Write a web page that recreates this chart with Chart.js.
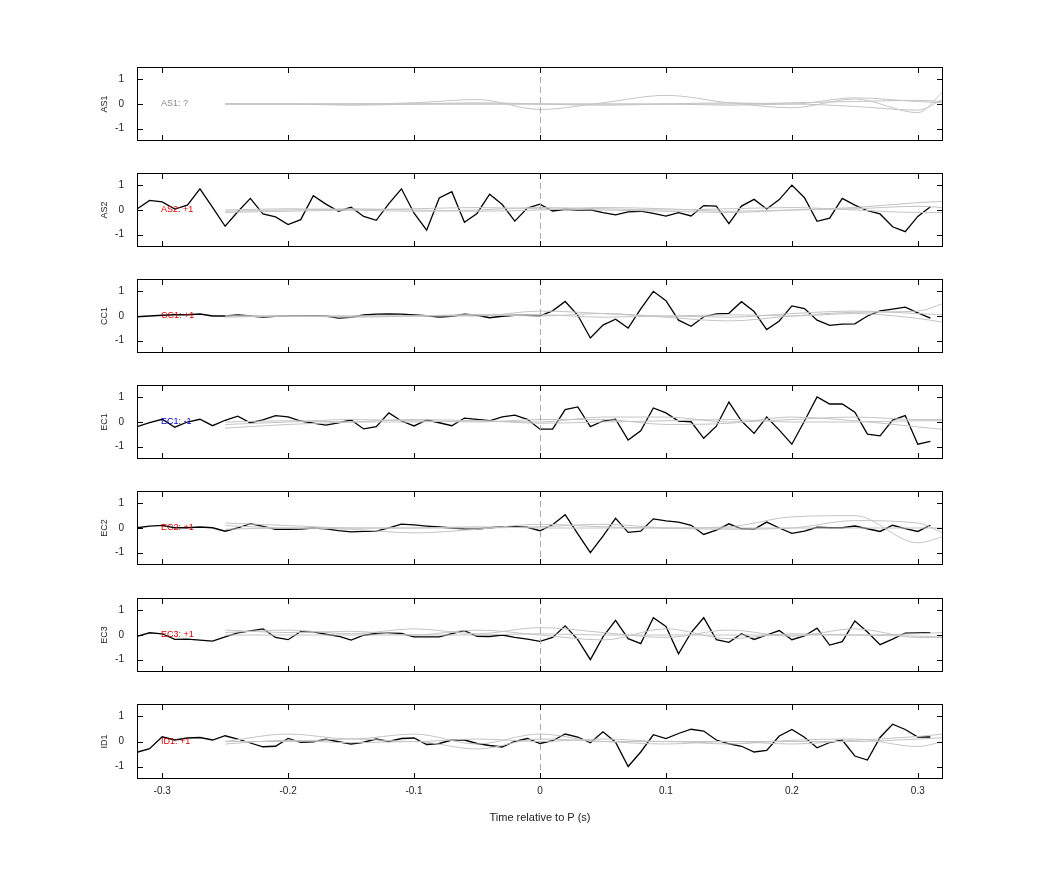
<!DOCTYPE html>
<html lang="en">
<head>
  <meta charset="UTF-8">
  <title>Time relative to P</title>
  <script src="https://cdn.jsdelivr.net/npm/chart.js"></script>
  <style>
    body { margin: 0; background: #fff; font-family: 'Liberation Sans', Arial, sans-serif; }
    #wrap { position: relative; width: 1042px; height: 875px; }
    canvas { position: absolute; left: 0; }
  </style>
</head>
<body>
<div id="wrap"></div>
<script>
  // time axis for the black traces (s)
  const times = [];
  for (let i = -32; i <= 31; i++) times.push(i / 100);
  // time axis for the smooth gray traces
  const grayTimes = [-0.25, -0.2, -0.15, -0.1, -0.05, 0, 0.05, 0.1, 0.15, 0.2, 0.25, 0.3, 0.32];
  const xTicks = [-0.3, -0.2, -0.1, 0, 0.1, 0.2, 0.3];
  const yTicks = [1, 0, -1];

  const stations = ['AS1', 'AS2', 'CC1', 'EC1', 'EC2', 'EC3', 'ID1'];
  const labels = ['AS1: ?', 'AS2: +1', 'CC1: +1', 'EC1: -1', 'EC2: +1', 'EC3: +1', 'ID1: +1'];
  const labelColors = ['#888888', '#dd0000', '#dd0000', '#0000cc', '#dd0000', '#dd0000', '#dd0000'];

  const blackAS2 = [0.04,0.39,0.33,0.04,0.2,0.86,0.11,-0.66,-0.07,0.47,-0.16,-0.28,-0.59,-0.39,0.58,0.24,-0.05,0.11,-0.26,-0.42,0.26,0.86,-0.13,-0.82,0.49,0.74,-0.5,-0.14,0.64,0.22,-0.45,0.08,0.24,-0.04,0.03,0,0.01,-0.11,-0.2,-0.08,-0.05,-0.14,-0.25,-0.11,-0.24,0.18,0.16,-0.55,0.16,0.43,0.04,0.42,1.01,0.5,-0.46,-0.33,0.47,0.2,-0.03,-0.16,-0.68,-0.88,-0.26,0.13];
  const blackCC1 = [-0.03,0,0.03,0.05,0.05,0.08,0,0,0.04,0,-0.04,-0.01,0.01,0.01,0.01,0,-0.09,-0.05,0.04,0.08,0.09,0.08,0.04,0.01,-0.04,-0.01,0.07,0.03,-0.07,-0.01,0.03,0.03,0.01,0.21,0.59,0.03,-0.89,-0.37,-0.13,-0.49,0.29,1.0,0.62,-0.17,-0.42,-0.03,0.09,0.11,0.58,0.18,-0.55,-0.2,0.41,0.3,-0.17,-0.38,-0.33,-0.32,0,0.21,0.28,0.36,0.13,-0.09];
  const blackEC1 = [-0.19,-0.03,0.11,-0.21,0,0.11,-0.15,0.07,0.24,-0.03,0.09,0.26,0.21,0.04,-0.05,-0.13,-0.03,0.08,-0.28,-0.19,0.37,0.04,-0.16,0.08,-0.03,-0.15,0.16,0.11,0.05,0.21,0.28,0.11,-0.29,-0.29,0.5,0.61,-0.19,0.04,0.11,-0.73,-0.36,0.57,0.37,0.04,0.01,-0.66,-0.17,0.81,0.04,-0.46,0.2,-0.33,-0.9,0.04,1.02,0.73,0.73,0.4,-0.49,-0.56,0.08,0.26,-0.9,-0.79];
  const blackEC2 = [0.01,0.08,0.11,0.01,0.01,0.04,0.01,-0.13,0,0.18,0.07,-0.05,-0.05,-0.04,0,-0.03,-0.11,-0.16,-0.14,-0.13,0.01,0.16,0.13,0.08,0.04,0,-0.03,-0.04,0.01,0.05,0.05,0.03,-0.11,0.13,0.54,-0.24,-1.0,-0.33,0.39,-0.18,-0.13,0.37,0.29,0.24,0.11,-0.26,-0.09,0.17,-0.03,-0.05,0.24,0,-0.22,-0.13,0.03,0.01,0.01,0.08,-0.03,-0.14,0.11,-0.03,-0.14,0.11];
  const blackEC3 = [-0.06,0.09,0.05,-0.18,-0.17,-0.21,-0.25,-0.08,0.09,0.17,0.25,-0.1,-0.19,0.14,0.13,0.03,-0.05,-0.21,-0.01,0.06,0.08,0.06,-0.08,-0.08,-0.08,0.06,0.18,-0.05,-0.06,0,-0.1,-0.17,-0.26,-0.1,0.37,-0.19,-1.0,-0.08,0.59,-0.15,-0.35,0.7,0.35,-0.76,0.1,0.7,-0.19,-0.3,0.05,-0.18,0,0.18,-0.19,-0.04,0.28,-0.41,-0.27,0.57,0.12,-0.39,-0.17,0.08,0.09,0.1];
  const blackID1 = [-0.43,-0.29,0.19,0.06,0.14,0.16,0.06,0.23,0.1,-0.06,-0.21,-0.19,0.12,-0.03,-0.01,0.09,-0.01,-0.1,-0.03,0.1,0,0.12,0.14,-0.12,-0.08,0.06,0.06,-0.08,-0.16,-0.22,0.01,0.12,-0.08,0.03,0.3,0.18,-0.05,0.39,-0.03,-1.0,-0.42,0.27,0.12,0.32,0.49,0.42,0.06,-0.09,-0.19,-0.42,-0.36,0.22,0.48,0.17,-0.25,-0.04,0.06,-0.58,-0.74,0.16,0.69,0.48,0.18,0.18];
  const blackSeries = [null, blackAS2, blackCC1, blackEC1, blackEC2, blackEC3, blackID1];

  const grayAS1 = [
    [0,0,0,0.05,0.18,-0.22,0.05,0.35,0.05,-0.15,0.2,-0.35,0.5],
    [0,0,-0.05,0,0.05,0,-0.05,0,0.05,0,0.25,0.1,0.05],
    [0,0,0,0,0,0,0,0,0,0.05,0.1,0.15,0.1],
    [0.02,0,0,0,0,0,0,0,-0.05,0,-0.1,-0.25,0.2]
  ];
  const grayAS2 = [
    [-0.1,-0.05,0,0.05,0.1,0.05,0,-0.05,-0.1,0,0.1,0.3,0.35],
    [0,0.05,0,-0.05,0,0.1,0.05,0,0.05,0.1,0,-0.1,-0.1],
    [-0.05,0,0.05,0,-0.05,0,0.1,0.05,-0.05,0,0.05,0.15,0.1]
  ];
  const grayCC1 = [
    [0,0,0,0,0,0.2,0.1,-0.05,-0.2,0,0.15,0.2,0.5],
    [0,0,-0.05,0,0.05,0,0.1,0,0.05,0,0.1,-0.1,-0.25],
    [-0.05,0,0,0,0.05,0.05,-0.05,0,-0.05,0.1,0.2,0.1,0.05]
  ];
  const grayEC1 = [
    [-0.25,-0.1,0,0.1,0.05,0,0.2,0.2,0,0.1,0.2,0.1,0.1],
    [-0.1,0,0.1,0.05,0,0.1,0.1,-0.1,-0.05,0.2,0.05,-0.2,-0.3],
    [0,0.05,0,0,0.05,-0.05,0,0.05,0.1,0,0,0.05,0.05]
  ];
  const grayEC2 = [
    [-0.05,0,-0.05,-0.2,-0.05,0.15,0.05,0,0.05,0.45,0.5,-0.6,-0.35],
    [0.2,0.1,0,0,0,0.05,0.15,0,-0.05,0,0.3,0.2,-0.2],
    [0.1,0,0,0,0.05,0,0,0,0,0,0,0,0]
  ];
  const grayEC3 = [
    [0.1,0.2,0.05,0.25,0.05,0.3,0.1,-0.1,0.2,-0.05,0.25,-0.1,-0.1],
    [0.2,0.1,0.15,0,0.2,0,-0.2,0.25,-0.15,0.05,0,0.05,0.1],
    [0,0,0,0,0,0.05,0,0,0,0,0,-0.05,-0.05]
  ];
  const grayID1 = [
    [0,0.3,0.1,0.3,-0.1,0.3,0,0,-0.1,0.05,0.1,-0.2,0],
    [0,0,0.1,0,0.1,0,0.1,0,0,0,0,0.1,0.15],
    [-0.1,0.05,-0.05,0,-0.3,0.1,0,-0.1,0,-0.1,0.05,0.2,0.3]
  ];
  const graySeries = [grayAS1, grayAS2, grayCC1, grayEC1, grayEC2, grayEC3, grayID1];

  const plotTops = [66, 172, 278, 384, 490, 597, 703];
  const plotH = 76, padTop = 10;

  const framePlugin = {
    id: 'frame',
    afterDatasetsDraw(chart, args, opts) {
      const { ctx, chartArea: a, scales: { x, y } } = chart;
      ctx.save();
      // dashed zero line
      ctx.strokeStyle = '#b8a4a4';
      ctx.lineWidth = 1;
      ctx.setLineDash([6, 4]);
      const x0 = Math.round(x.getPixelForValue(0)) + 0.5;
      ctx.beginPath(); ctx.moveTo(x0, a.top); ctx.lineTo(x0, a.bottom); ctx.stroke();
      ctx.setLineDash([]);
      // box
      ctx.strokeStyle = '#000';
      ctx.strokeRect(a.left + 0.5, a.top + 0.5, a.width - 1, a.height - 1);
      // inward ticks
      ctx.beginPath();
      xTicks.forEach(v => {
        const px = Math.round(x.getPixelForValue(v)) + 0.5;
        ctx.moveTo(px, a.top); ctx.lineTo(px, a.top + 6);
        ctx.moveTo(px, a.bottom); ctx.lineTo(px, a.bottom - 6);
      });
      yTicks.forEach(v => {
        const py = Math.round(y.getPixelForValue(v)) + 0.5;
        ctx.moveTo(a.left, py); ctx.lineTo(a.left + 6, py);
        ctx.moveTo(a.right, py); ctx.lineTo(a.right - 6, py);
      });
      ctx.stroke();
      // station label
      ctx.font = '9px "Liberation Sans", Arial';
      ctx.fillStyle = opts.color;
      ctx.textBaseline = 'middle';
      ctx.fillText(opts.text, x.getPixelForValue(-0.301), y.getPixelForValue(0));
      ctx.restore();
    }
  };

  const wrap = document.getElementById('wrap');
  stations.forEach((name, i) => {
    const last = i === stations.length - 1;
    const c = document.createElement('canvas');
    const bottomExtra = last ? 50 : 10;
    c.width = 1042; c.height = padTop + plotH + bottomExtra;
    c.style.top = (plotTops[i] - padTop) + 'px';
    wrap.appendChild(c);

    const datasets = graySeries[i].map(g => ({
      data: grayTimes.map((t, k) => ({ x: t, y: g[k] })),
      borderColor: '#c4c4c4', borderWidth: 1, pointRadius: 0, tension: 0.4,
      cubicInterpolationMode: 'monotone'
    }));
    if (blackSeries[i]) {
      datasets.push({
        data: times.map((t, k) => ({ x: t, y: blackSeries[i][k] })),
        borderColor: '#000', borderWidth: 1.3, pointRadius: 0, tension: 0
      });
    }

    new Chart(c, {
      type: 'line',
      data: { datasets },
      plugins: [framePlugin],
      options: {
        responsive: false, animation: false,
        layout: { padding: { top: padTop, right: 99, bottom: last ? 0 : 10, left: 95 } },
        plugins: {
          legend: { display: false }, tooltip: { enabled: false },
          frame: { text: labels[i], color: labelColors[i] }
        },
        scales: {
          x: {
            type: 'linear', min: -0.32, max: 0.32, display: last,
            afterBuildTicks: s => { s.ticks = xTicks.map(v => ({ value: v })); },
            afterFit: s => { if (last) s.height = 50; },
            grid: { display: false, drawTicks: false }, border: { display: false },
            ticks: { color: '#222', font: { size: 10 }, padding: 6,
              callback: v => v === 0 ? '0' : String(v) },
            title: { display: true, text: 'Time relative to P (s)', color: '#222', font: { size: 11 }, padding: { top: 4 } }
          },
          y: {
            min: -1.5, max: 1.5,
            afterBuildTicks: s => { s.ticks = yTicks.map(v => ({ value: v })); },
            afterFit: s => { s.width = 42; },
            grid: { display: false }, border: { display: false },
            ticks: { color: '#222', font: { size: 10 }, padding: 5 },
            title: { display: true, text: name, color: '#222', font: { size: 9 }, padding: { bottom: 4 } }
          }
        }
      }
    });
  });
</script>
</body>
</html>
